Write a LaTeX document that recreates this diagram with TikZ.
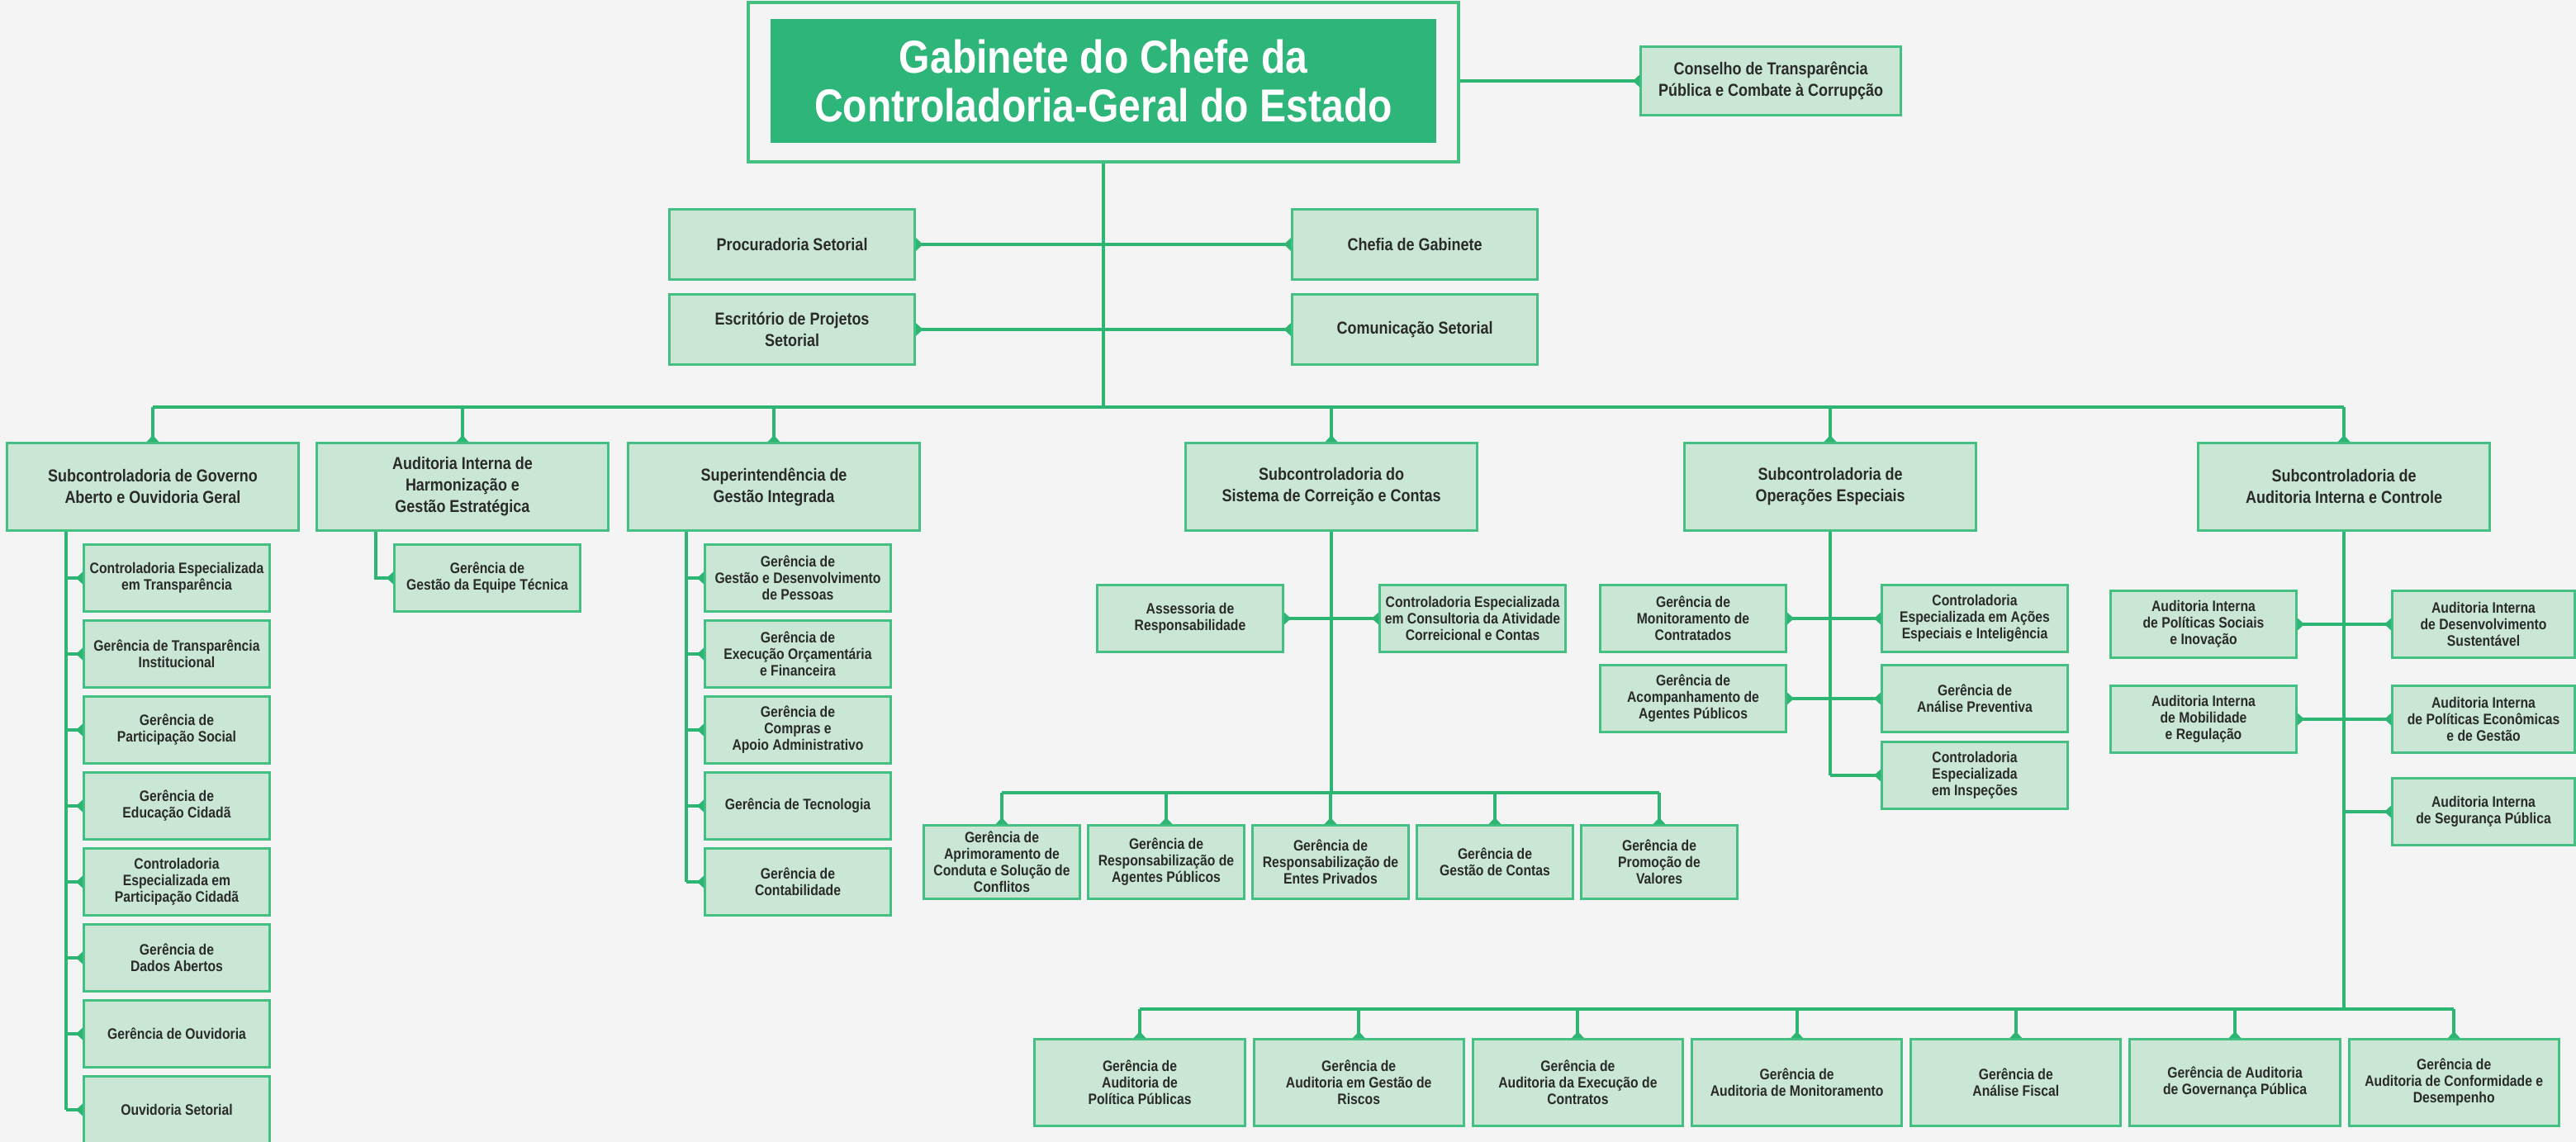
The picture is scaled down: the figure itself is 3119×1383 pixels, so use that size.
\documentclass[tikz,border=0pt]{standalone}
\usepackage{fontspec}
\usepackage{xcolor}
\usepackage{tikz}
\usetikzlibrary{arrows.meta, positioning, calc}
\setmainfont{Liberation Sans}
\newfontfamily\cgefont[FakeStretch=0.86]{Liberation Sans}
\definecolor{cgeground}{HTML}{F4F4F4}
\definecolor{cgetitle}{HTML}{2EB67A}
\definecolor{cgeline}{HTML}{2DB574}
\definecolor{cgeborder}{HTML}{45C083}
\definecolor{cgefill}{HTML}{C9E7D4}
\definecolor{cgeink}{HTML}{2A2A2A}
\newcommand{\cgebig}{\cgefont\bfseries\fontsize{15.9pt}{16.8pt}\selectfont}
\newcommand{\cgehead}{\cgefont\bfseries\fontsize{5.95pt}{7.4pt}\selectfont}
\newcommand{\cgesmall}{\cgefont\bfseries\fontsize{5.2pt}{5.7pt}\selectfont}
\tikzset{
	link/.style={draw=cgeline, line width=1.15pt},
	endtip/.style={-{Triangle[reversed, length=0.085cm, width=0.15cm]}},
	bothtip/.style={{Triangle[reversed, length=0.085cm, width=0.15cm]}-{Triangle[reversed, length=0.085cm, width=0.15cm]}},
	unitbox/.style={draw=cgeborder, line width=0.85pt, fill=cgefill, inner sep=0pt, align=center, text=cgeink},
	chiefbox/.style={unitbox, minimum width=3.52cm, minimum height=1.05cm, font=\cgehead},
	staffbox/.style={unitbox, minimum width=2.97cm, minimum height=0.84cm, font=\cgehead},
	leafbox/.style={unitbox, minimum width=2.24cm, minimum height=0.80cm, font=\cgesmall},
	corrbox/.style={unitbox, minimum width=1.88cm, minimum height=0.88cm, font=\cgesmall},
	gaudbox/.style={unitbox, minimum width=2.54cm, minimum height=1.04cm, font=\cgesmall}
}

\begin{document}
\begin{tikzpicture}[x=0.01cm, y=-0.01cm]
	% Canvas
	\fill[cgeground] (0,0) rectangle (3119,1383);
	\useasboundingbox (0,0) rectangle (3119,1383);

	% Cabinet of the chief
	\node[draw=cgeborder, line width=1.15pt, fill=cgeground, minimum width=8.59cm, minimum height=1.93cm] (frame) at (1336,99.5) {};
	\node[fill=cgetitle, text=white, align=center, minimum width=8.05cm, minimum height=1.50cm, font=\cgebig] (cabinet) at (1336,98) {Gabinete do Chefe da\\Controladoria-Geral do Estado};
	\node[unitbox, minimum width=3.14cm, minimum height=0.82cm, font=\cgehead] (council) at (2144,98) {Conselho de Transparência\\Pública e Combate à Corrupção};

	% Staff units
	\node[staffbox] (proc) at (959,296) {Procuradoria Setorial};
	\node[staffbox] (chef) at (1713,296) {Chefia de Gabinete};
	\node[staffbox] (escr) at (959,399) {Escritório de Projetos\\Setorial};
	\node[staffbox] (comu) at (1713,399) {Comunicação Setorial};

	% Sub-controllerships
	\node[chiefbox] (gov) at (185,589.5) {Subcontroladoria de Governo\\Aberto e Ouvidoria Geral};
	\node[chiefbox] (harm) at (560,589.5) {Auditoria Interna de\\Harmonização e\\Gestão Estratégica};
	\node[chiefbox] (supi) at (937,589.5) {Superintendência de\\Gestão Integrada};
	\node[chiefbox] (corr) at (1612,589.5) {Subcontroladoria do\\Sistema de Correição e Contas};
	\node[chiefbox] (oper) at (2216,589.5) {Subcontroladoria de\\Operações Especiais};
	\node[chiefbox] (audi) at (2838,589.5) {Subcontroladoria de\\Auditoria Interna e Controle};

	% Open government column
	\foreach \txt [count=\i] in {{Controladoria Especializada\\em Transparência}, {Gerência de Transparência\\Institucional}, {Gerência de\\Participação Social}, {Gerência de\\Educação Cidadã}, {Controladoria\\Especializada em\\Participação Cidadã}, {Gerência de\\Dados Abertos}, {Gerência de Ouvidoria}, {Ouvidoria Setorial}} {
		\pgfmathsetmacro{\ypos}{608 + 92*\i}
		\node[leafbox] (gov\i) at (214,\ypos) {\txt};
	}
	\node[leafbox] (harmtech) at (590,700) {Gerência de\\Gestão da Equipe Técnica};

	% Integrated management column
	\foreach \txt [count=\i] in {{Gerência de\\Gestão e Desenvolvimento\\de Pessoas}, {Gerência de\\Execução Orçamentária\\e Financeira}, {Gerência de\\Compras e\\Apoio Administrativo}, {Gerência de Tecnologia}, {Gerência de\\Contabilidade}} {
		\pgfmathsetmacro{\ypos}{608 + 92*\i}
		\node[leafbox] (supi\i) at (966,\ypos) {\txt};
	}

	% Correction system
	\node[leafbox] (asse) at (1441,749) {Assessoria de\\Responsabilidade};
	\node[leafbox] (cons) at (1783,749) {Controladoria Especializada\\em Consultoria da Atividade\\Correicional e Contas};
	\foreach \txt [count=\i] in {{Gerência de\\Aprimoramento de\\Conduta e Solução de\\Conflitos}, {Gerência de\\Responsabilização de\\Agentes Públicos}, {Gerência de\\Responsabilização de\\Entes Privados}, {Gerência de\\Gestão de Contas}, {Gerência de\\Promoção de\\Valores}} {
		\pgfmathsetmacro{\xpos}{1213 + 199*(\i-1)}
		\node[corrbox] (cor\i) at (\xpos,1044) {\txt};
	}

	% Special operations
	\node[leafbox] (opl1) at (2050,749) {Gerência de\\Monitoramento de\\Contratados};
	\node[leafbox] (opl2) at (2050,846) {Gerência de\\Acompanhamento de\\Agentes Públicos};
	\node[leafbox] (opr1) at (2391,749) {Controladoria\\Especializada em Ações\\Especiais e Inteligência};
	\node[leafbox] (opr2) at (2391,846) {Gerência de\\Análise Preventiva};
	\node[leafbox] (opr3) at (2391,939) {Controladoria\\Especializada\\em Inspeções};

	% Internal audit
	\node[leafbox] (ail1) at (2668,756) {Auditoria Interna\\de Políticas Sociais\\e Inovação};
	\node[leafbox] (ail2) at (2668,871) {Auditoria Interna\\de Mobilidade\\e Regulação};
	\node[leafbox, minimum width=2.20cm] (air1) at (3007,756) {Auditoria Interna\\de Desenvolvimento\\Sustentável};
	\node[leafbox, minimum width=2.20cm] (air2) at (3007,871) {Auditoria Interna\\de Políticas Econômicas\\e de Gestão};
	\node[leafbox, minimum width=2.20cm] (air3) at (3007,983) {Auditoria Interna\\de Segurança Pública};
	\foreach \txt [count=\i] in {{Gerência de\\Auditoria de\\Política Públicas}, {Gerência de\\Auditoria em Gestão de\\Riscos}, {Gerência de\\Auditoria da Execução de\\Contratos}, {Gerência de\\Auditoria de Monitoramento}, {Gerência de\\Análise Fiscal}, {Gerência de Auditoria\\de Governança Pública}, {Gerência de\\Auditoria de Conformidade e\\Desempenho}} {
		\pgfmathsetmacro{\xpos}{1380 + 265.2*(\i-1)}
		\node[gaudbox] (aud\i) at (\xpos,1311) {\txt};
	}

	% Connectors
	\coordinate (hub) at (1336,493);
	\coordinate (govrail) at (80,0);
	\coordinate (harmrail) at (455,0);
	\coordinate (supirail) at (831,0);
	\coordinate (corrbus) at (1612,960);
	\coordinate (audbus) at (2838,1222);

	\draw[link] (frame.south) -- (hub);
	\draw[link, endtip] (frame.east |- council.west) -- (council.west);
	\draw[link, bothtip] (proc.east) -- (chef.west);
	\draw[link, bothtip] (escr.east) -- (comu.west);
	\draw[link] (gov.north |- hub) -- (audi.north |- hub);
	\foreach \n in {gov, harm, supi, corr, oper, audi}
		\draw[link, endtip] (\n.north |- hub) -- (\n.north);

	\draw[link] (gov.south -| govrail) -- (govrail |- gov8.west);
	\foreach \i in {1,...,8}
		\draw[link, endtip] (govrail |- gov\i.west) -- (gov\i.west);
	\draw[link, endtip] (harm.south -| harmrail) |- (harmtech.west);
	\draw[link] (supi.south -| supirail) -- (supirail |- supi5.west);
	\foreach \i in {1,...,5}
		\draw[link, endtip] (supirail |- supi\i.west) -- (supi\i.west);

	\draw[link] (corr.south) -- (corrbus);
	\draw[link, bothtip] (asse.east) -- (cons.west);
	\draw[link] (cor1.north |- corrbus) -- (cor5.north |- corrbus);
	\foreach \i in {1,...,5}
		\draw[link, endtip] (cor\i.north |- corrbus) -- (cor\i.north);

	\draw[link] (oper.south) -- (oper.south |- opr3.west);
	\draw[link, bothtip] (opl1.east) -- (opr1.west);
	\draw[link, bothtip] (opl2.east) -- (opr2.west);
	\draw[link, endtip] (oper.south |- opr3.west) -- (opr3.west);

	\draw[link] (audi.south) -- (audbus);
	\draw[link, bothtip] (ail1.east) -- (air1.west);
	\draw[link, bothtip] (ail2.east) -- (air2.west);
	\draw[link, endtip] (audi.south |- air3.west) -- (air3.west);
	\draw[link] (aud1.north |- audbus) -- (aud7.north |- audbus);
	\foreach \i in {1,...,7}
		\draw[link, endtip] (aud\i.north |- audbus) -- (aud\i.north);
\end{tikzpicture}
\end{document}
